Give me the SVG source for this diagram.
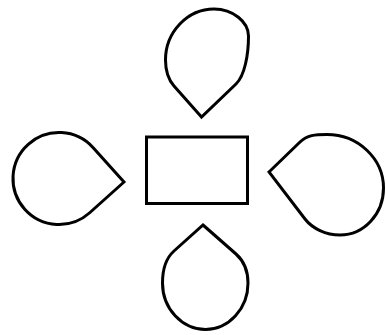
<svg xmlns="http://www.w3.org/2000/svg" width="386" height="335" viewBox="0 0 386 335">
  <style>
    .shape { fill: #ffffff; stroke: #000000; stroke-width: 3; stroke-linejoin: miter; }
  </style>
  <rect x="0" y="0" width="386" height="335" fill="#ffffff"/>
  <g id="center">
    <rect class="shape" x="146.5" y="137" width="101" height="66.5"/>
  </g>
  <g id="drop-top">
    <path class="shape" d="M 201.5 117 L 174 86 C 167.4 78.5 165.5 70 165.5 60 C 165.5 32 187.6 9 214 9 C 233 9 248.5 22 248.5 36 C 248.5 55 244.6 75.7 236 84 L 201.5 117 Z"/>
  </g>
  <g id="drop-left">
    <path class="shape" d="M 124 182 L 93.2 147.75 A 46 46 0 1 0 89.7 212.75 Z"/>
  </g>
  <g id="drop-right">
    <path class="shape" d="M 269 172 L 300 142 C 307.2 135 315 134.5 327 134.5 C 358 134.5 383.5 158.6 383.5 188 C 383.5 214 364 235 340 235 C 326 235 312.3 228.5 305 219 L 269 172 Z"/>
  </g>
  <g id="drop-bottom">
    <path class="shape" d="M 203 225 L 236 254 C 243.5 260.7 248 270 248 283 C 248 308.6 228.9 329.5 205.5 329.5 C 182 329.5 162.5 308.6 162.5 283 C 162.5 270 166.5 257.7 174 251 L 203 225 Z"/>
  </g>
  <g id="connectors"></g>
</svg>
